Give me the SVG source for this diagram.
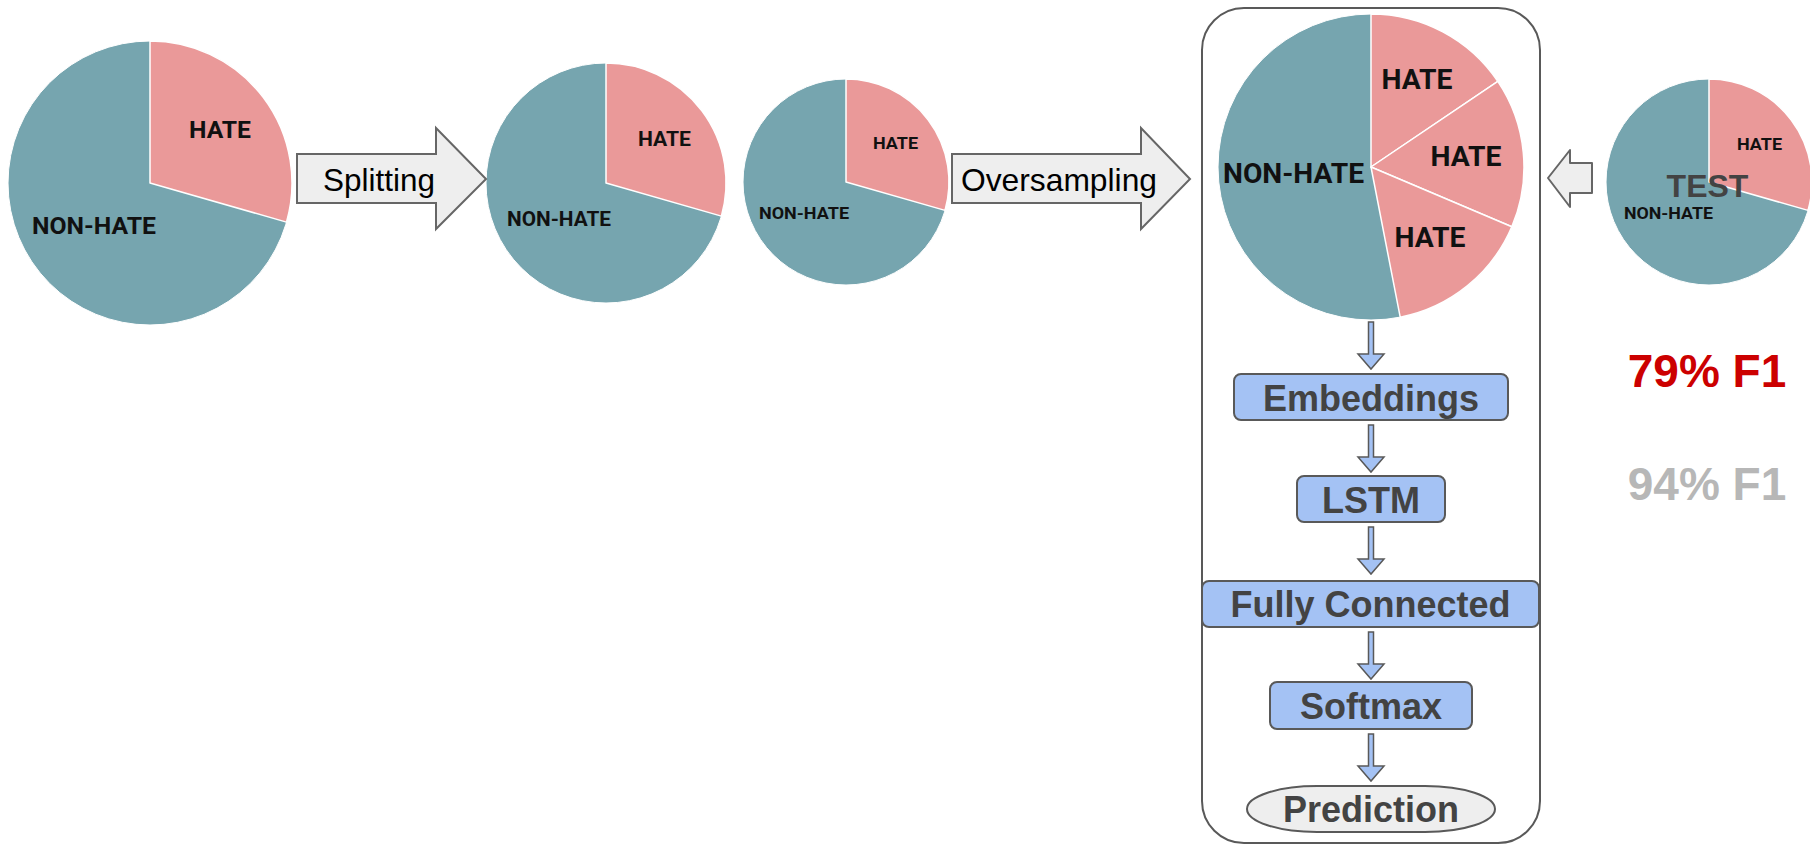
<svg xmlns="http://www.w3.org/2000/svg" width="1810" height="844" viewBox="0 0 1810 844">
  <style>
    .non { fill: #76a5af; stroke: #ffffff; stroke-width: 1; }
    .hate { fill: #ea9999; stroke: #ffffff; stroke-width: 1.5; stroke-linejoin: round; }
    .plabel { font-family: Roboto, "Liberation Sans", sans-serif; font-weight: 700; fill: #111111; text-anchor: middle; }
    .bigarrow { fill: #eeeeee; stroke: #666666; stroke-width: 2; }
    .arrowtxt { font-family: "Liberation Sans", Arial, sans-serif; font-size: 32px; fill: #000000; }
    .layer { fill: #a4c2f4; stroke: #595959; stroke-width: 2; }
    .ltxt { font-family: "Liberation Sans", Arial, sans-serif; font-weight: 700; font-size: 36px; fill: #434343; text-anchor: middle; }
    .down { fill: #a4c2f4; stroke: #595959; stroke-width: 1.5; stroke-linejoin: miter; }
    .score { font-family: "Liberation Sans", Arial, sans-serif; font-weight: 700; font-size: 46px; text-anchor: middle; }
  </style>
  <defs>
    <path id="downArrow" class="down" d="M-2.5,0 H2.5 V32 H13 L0,47 L-13,32 H-2.5 Z"/>
  </defs>

  <!-- Full dataset -->
  <g id="pie-full">
    <circle class="non" cx="150" cy="183" r="142"/>
    <path class="hate" d="M150,183 L150,41 A142,142 0 0 1 286.5,222.1 Z"/>
    <text class="plabel" x="220" y="138" font-size="24" textLength="62" lengthAdjust="spacingAndGlyphs">HATE</text>
    <text class="plabel" x="94" y="234" font-size="24" textLength="124" lengthAdjust="spacingAndGlyphs">NON-HATE</text>
  </g>

  <!-- Training split -->
  <g id="pie-train">
    <circle class="non" cx="606" cy="183" r="120"/>
    <path class="hate" d="M606,183 L606,63 A120,120 0 0 1 721.4,216.1 Z"/>
    <text class="plabel" x="664.5" y="146" font-size="20" textLength="53" lengthAdjust="spacingAndGlyphs">HATE</text>
    <text class="plabel" x="559" y="226" font-size="20" textLength="104" lengthAdjust="spacingAndGlyphs">NON-HATE</text>
  </g>

  <!-- Validation split -->
  <g id="pie-valid">
    <circle class="non" cx="846" cy="182" r="103"/>
    <path class="hate" d="M846,182 L846,79 A103,103 0 0 1 945,210.4 Z"/>
    <text class="plabel" x="895.5" y="149" font-size="17" textLength="45" lengthAdjust="spacingAndGlyphs">HATE</text>
    <text class="plabel" x="804" y="219" font-size="17" textLength="90" lengthAdjust="spacingAndGlyphs">NON-HATE</text>
  </g>

  <!-- Step arrows -->
  <g id="step-splitting">
    <polygon class="bigarrow" points="297,154 436,154 436,128 486,179 436,229 436,203 297,203"/>
    <text class="arrowtxt" x="323" y="191" textLength="112" lengthAdjust="spacingAndGlyphs">Splitting</text>
  </g>
  <g id="step-oversampling">
    <polygon class="bigarrow" points="952,154 1141,154 1141,128 1190,179 1141,229 1141,203 952,203"/>
    <text class="arrowtxt" x="961" y="191" textLength="196" lengthAdjust="spacingAndGlyphs">Oversampling</text>
  </g>

  <!-- Model container -->
  <g id="model">
    <rect x="1202" y="8" width="338" height="835" rx="42" ry="42" fill="#ffffff" stroke="#595959" stroke-width="2"/>
  </g>

  <!-- Oversampled training set -->
  <g id="pie-oversampled">
    <circle class="non" cx="1371" cy="167" r="153"/>
    <path class="hate" d="M1371,167 L1371,14 A153,153 0 0 1 1497.8,81.4 Z"/>
    <path class="hate" d="M1371,167 L1497.8,81.4 A153,153 0 0 1 1511.8,226.8 Z"/>
    <path class="hate" d="M1371,167 L1511.8,226.8 A153,153 0 0 1 1400.2,317.2 Z"/>
    <text class="plabel" x="1417" y="89" font-size="27" textLength="71" lengthAdjust="spacingAndGlyphs">HATE</text>
    <text class="plabel" x="1466" y="166" font-size="27" textLength="71" lengthAdjust="spacingAndGlyphs">HATE</text>
    <text class="plabel" x="1430" y="247" font-size="27" textLength="71" lengthAdjust="spacingAndGlyphs">HATE</text>
    <text class="plabel" x="1293.5" y="183" font-size="27" textLength="141" lengthAdjust="spacingAndGlyphs">NON-HATE</text>
  </g>

  <!-- Network layers -->
  <g id="layer-embeddings">
    <rect class="layer" x="1234" y="374" width="274" height="46" rx="7"/>
    <text class="ltxt" x="1371" y="410.5">Embeddings</text>
  </g>
  <g id="layer-lstm">
    <rect class="layer" x="1297" y="476" width="148" height="46" rx="7"/>
    <text class="ltxt" x="1371" y="513">LSTM</text>
  </g>
  <g id="layer-fc">
    <rect class="layer" x="1202" y="581" width="337" height="46" rx="7"/>
    <text class="ltxt" x="1370.5" y="617">Fully Connected</text>
  </g>
  <g id="layer-softmax">
    <rect class="layer" x="1270" y="682" width="202" height="47" rx="7"/>
    <text class="ltxt" x="1371" y="719">Softmax</text>
  </g>
  <g id="output-prediction">
    <rect x="1247" y="786" width="248" height="46" rx="70" ry="23" fill="#eeeeee" stroke="#595959" stroke-width="2"/>
    <text class="ltxt" x="1371" y="821.5">Prediction</text>
  </g>

  <!-- Connectors -->
  <g id="connectors">
    <use href="#downArrow" x="1371" y="322"/>
    <use href="#downArrow" x="1371" y="425"/>
    <use href="#downArrow" x="1371" y="527"/>
    <use href="#downArrow" x="1371" y="632"/>
    <use href="#downArrow" x="1371" y="734"/>
    <polygon class="bigarrow" stroke-width="3" stroke-linejoin="round" points="1548,178 1570,150 1570,163 1592,163 1592,193 1570,193 1570,207"/>
  </g>

  <!-- Test set -->
  <g id="pie-test">
    <circle class="non" cx="1709" cy="182" r="103"/>
    <path class="hate" d="M1709,182 L1709,79 A103,103 0 0 1 1808,210.4 Z"/>
    <text class="plabel" x="1759.5" y="150" font-size="17" textLength="45" lengthAdjust="spacingAndGlyphs">HATE</text>
    <text class="plabel" x="1668.5" y="219" font-size="17" textLength="89" lengthAdjust="spacingAndGlyphs">NON-HATE</text>
    <text x="1707.5" y="196.5" font-family="'Liberation Sans', Arial, sans-serif" font-weight="700" font-size="32" fill="#434343" text-anchor="middle">TEST</text>
  </g>

  <!-- Scores -->
  <g id="scores">
    <text class="score" x="1707" y="387" fill="#cc0000">79% F1</text>
    <text class="score" x="1707" y="500" fill="#b7b7b7">94% F1</text>
  </g>
</svg>
